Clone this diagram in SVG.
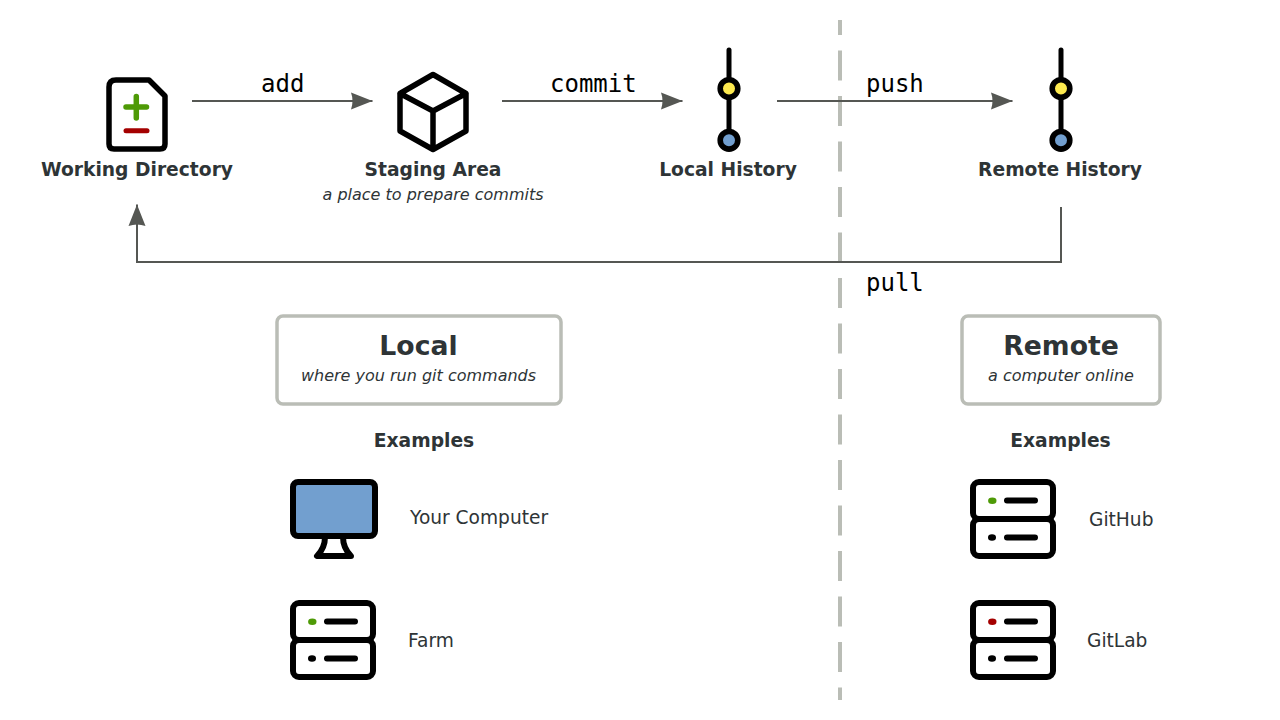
<svg xmlns="http://www.w3.org/2000/svg" width="1280" height="720" viewBox="0 0 1280 720">
<style>
text{font-family:"DejaVu Sans",sans-serif;fill:#2e3436}
.t{font-size:18.700px;font-weight:bold;text-anchor:middle}
.s{font-size:16px;font-style:italic;text-anchor:middle}
.h{font-size:26.700px;font-weight:bold;text-anchor:middle}
.l{font-size:18.600px}
.c{font-family:"DejaVu Sans Mono",monospace;font-size:24px;fill:#000}
.i{fill:none;stroke:#000;stroke-width:5.500;stroke-linecap:round;stroke-linejoin:round}
.v{fill:none;stroke:#000;stroke-width:6;stroke-linecap:round;stroke-linejoin:round}
.e{fill:none;stroke:#555753;stroke-width:2}
.b{fill:#fff;stroke:#babdb6;stroke-width:3.500}
</style>
<defs>
<marker id="a" markerUnits="userSpaceOnUse" markerWidth="24" markerHeight="20" refX="21.500" refY="10" orient="auto"><path d="M0 1.500 L21.500 10 L0 18.500 Q3 10 0 1.500Z" fill="#555753"/></marker>
<g id="srv">
<rect x="3" y="3" width="80" height="37" rx="6" class="v"/>
<rect x="3" y="40" width="80" height="37" rx="6" class="v"/>
<path d="M37 21.500H65M37 58.500H65" class="v"/>
<ellipse cx="22" cy="58.500" rx="4" ry="3.300"/>
</g>
<g id="hist">
<path d="M0 2V92" fill="none" stroke="#000" stroke-width="5" stroke-linecap="round"/>
<circle cx="0" cy="40.500" r="8.800" fill="#fce94f" stroke="#000" stroke-width="5.600"/>
<circle cx="0" cy="92.300" r="8.800" fill="#729fcf" stroke="#000" stroke-width="5.600"/>
</g>
</defs>
<path id="divider" d="M840 20V700" fill="none" stroke="#babdb6" stroke-width="4" stroke-dasharray="30 15.500" stroke-dashoffset="15"/>
<g id="connectors">
<path class="e" d="M192 101H372.500" marker-end="url(#a)"/>
<path class="e" d="M502 101H682.500" marker-end="url(#a)"/>
<path class="e" d="M777 101H1012.500" marker-end="url(#a)"/>
<path class="e" d="M1061 207V262H137V204.500" marker-end="url(#a)"/>
<text class="c" x="261" y="92">add</text>
<text class="c" x="550" y="92">commit</text>
<text class="c" x="866" y="92">push</text>
<text class="c" x="866" y="291">pull</text>
</g>
<g id="working-directory">
<path class="i" d="M116 80H149L165 96V144Q165 149 160 149H114Q109 149 109 144V87Q109 80 116 80Z"/>
<path d="M126 107H146.500M136.300 96.500V118" fill="none" stroke="#4e9a06" stroke-width="5.500" stroke-linecap="round"/>
<path d="M126 130.700H147" fill="none" stroke="#a40000" stroke-width="5" stroke-linecap="round"/>
<text class="t" x="137" y="176">Working Directory</text>
</g>
<g id="staging-area">
<path class="i" d="M433 74.500L466 93.500V131L433 149.500L400 131V93.500ZM400 93.500L433 111L466 93.500M433 111V149.500"/>
<text class="t" x="433" y="176">Staging Area</text>
<text class="s" x="433" y="200">a place to prepare commits</text>
</g>
<g id="local-history">
<use href="#hist" x="729" y="48"/>
<text class="t" x="728" y="176">Local History</text>
</g>
<g id="remote-history">
<use href="#hist" x="1061" y="48"/>
<text class="t" x="1060" y="176">Remote History</text>
</g>
<g id="local">
<rect class="b" x="277" y="316" width="284" height="88" rx="6"/>
<text class="h" x="418.500" y="355">Local</text>
<text class="s" x="418.500" y="381">where you run git commands</text>
<text class="t" x="424" y="447">Examples</text>
</g>
<g id="remote">
<rect class="b" x="962" y="316" width="198" height="88" rx="6"/>
<text class="h" x="1061" y="355">Remote</text>
<text class="s" x="1061" y="381">a computer online</text>
<text class="t" x="1060.500" y="447">Examples</text>
</g>
<g id="your-computer">
<rect x="293" y="482" width="82" height="54" rx="5" fill="#729fcf" stroke="#000" stroke-width="6"/>
<path class="v" d="M325 537Q325 548 317 556H351Q343 548 343 537"/>
<text class="l" x="410" y="524">Your Computer</text>
</g>
<g id="farm">
<use href="#srv" x="290" y="600"/>
<ellipse cx="312.300" cy="621.700" rx="4.200" ry="3.300" fill="#4e9a06"/>
<text class="l" x="408" y="647">Farm</text>
</g>
<g id="github">
<use href="#srv" x="970" y="479"/>
<ellipse cx="992.300" cy="500.700" rx="4.200" ry="3.300" fill="#4e9a06"/>
<text class="l" x="1089" y="526">GitHub</text>
</g>
<g id="gitlab">
<use href="#srv" x="970" y="600"/>
<ellipse cx="992.300" cy="621.700" rx="4.200" ry="3.300" fill="#a40000"/>
<text class="l" x="1087" y="647">GitLab</text>
</g>
</svg>
